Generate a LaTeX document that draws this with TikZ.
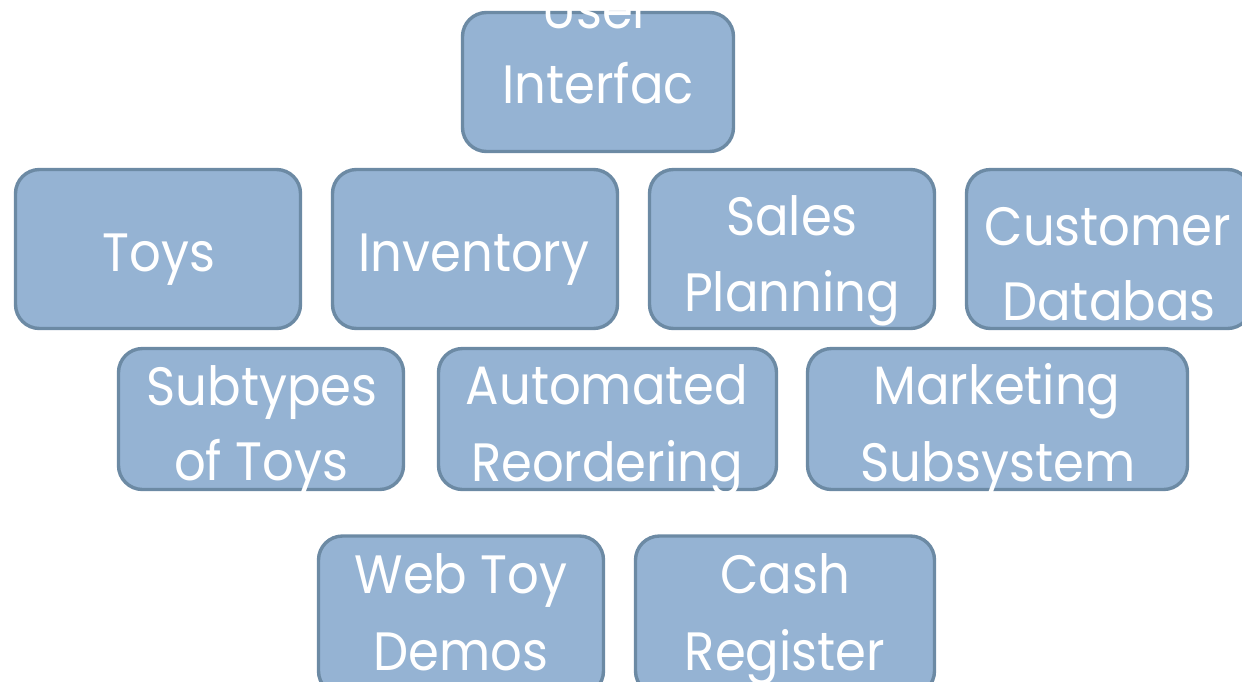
\documentclass[tikz,border=0pt]{standalone}
\usepackage{fontspec}
\newfontfamily\boxfont[FakeStretch=0.92]{Poppins}
\definecolor{boxfill}{HTML}{95B3D3}
\definecolor{boxline}{HTML}{6C8AA4}
\tikzset{
  box/.style={draw=boxline, fill=boxfill, line width=3.4pt, rounded corners=24pt,
    rectangle, inner sep=0pt},
  lbl/.style={anchor=base, text=white, inner sep=0pt,
    font=\boxfont\fontsize{54}{54}\selectfont}
}
\begin{document}
\begin{tikzpicture}[x=1pt,y=-1pt]
\useasboundingbox (0,0) rectangle (1242,681);
\clip (0,0) rectangle (1242,681);
% boxes
\node[box, minimum width=271pt, minimum height=139pt] (ui) at (598,82) {};
\node[box, minimum width=285pt, minimum height=159pt] (toys) at (158,249) {};
\node[box, minimum width=285pt, minimum height=159pt] (inv) at (475,249) {};
\node[box, minimum width=285pt, minimum height=159pt] (sales) at (792,249) {};
\node[box, minimum width=285pt, minimum height=159pt] (cust) at (1109,249) {};
\node[box, minimum width=285pt, minimum height=141pt] (sub) at (261,419) {};
\node[box, minimum width=338pt, minimum height=141pt] (auto) at (607.5,419) {};
\node[box, minimum width=380pt, minimum height=141pt] (mkt) at (997.5,419) {};
\node[box, minimum width=285pt, minimum height=159pt] (web) at (461,615.5) {};
\node[box, minimum width=299pt, minimum height=159pt] (cash) at (785,615.5) {};
% labels
\node[lbl] (uiA) at (597,28) {User};
\node[lbl] (uiB) at (598,103) {Interfac};
\node[lbl] (toysA) at (159,271) {Toys};
\node[lbl] (invA) at (474,271) {Inventory};
\node[lbl] (salesA) at (792,235) {Sales};
\node[lbl] (salesB) at (792,311) {Planning};
\node[lbl] (custA) at (1108,245) {Customer};
\node[lbl] (custB) at (1109,320) {Databas};
\node[lbl] (subA) at (262,405) {Subtypes};
\node[lbl] (subB) at (261,480) {of Toys};
\node[lbl] (autoA) at (607,404) {Automated};
\node[lbl] (autoB) at (607,481) {Reordering};
\node[lbl] (mktA) at (997,404) {Marketing};
\node[lbl] (mktB) at (998,481) {Subsystem};
\node[lbl] (webA) at (461,593) {Web Toy};
\node[lbl] (webB) at (461,670) {Demos};
\node[lbl] (cashA) at (785,593) {Cash};
\node[lbl] (cashB) at (785,670) {Register};
\end{tikzpicture}
\end{document}
